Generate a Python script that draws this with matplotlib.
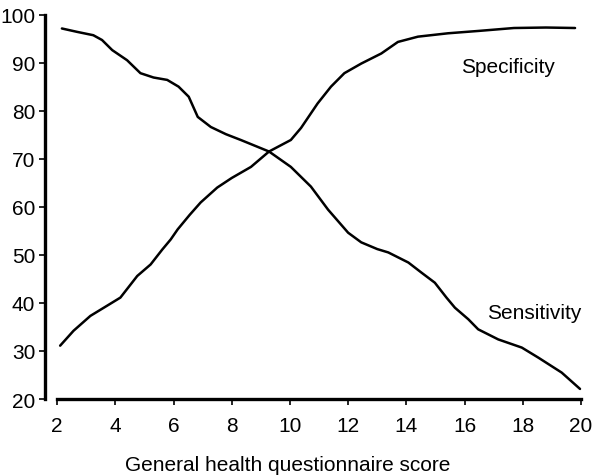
"""
Sensitivity and specificity against general health questionnaire score.
"""

import matplotlib.pyplot as plt

plt.rcParams['font.family'] = ['Liberation Sans', 'DejaVu Sans']

# (score, percent)
sens_x = [2.16, 2.68, 3.24, 3.54, 3.89, 4.4, 4.86, 5.31, 5.78, 6.17, 6.52,
          6.83, 7.28, 7.8, 8.31, 9.28, 10.03, 10.72, 11.31, 12.0, 12.45,
          13.0, 13.38, 14.07, 14.52, 14.98, 15.38, 15.67, 16.13, 16.47,
          17.16, 17.97, 18.54, 19.34, 19.97]
sens_y = [97.1, 96.4, 95.7, 94.7, 92.6, 90.5, 87.8, 86.9, 86.4, 85.0, 82.9,
          78.7, 76.6, 75.1, 73.9, 71.5, 68.3, 64.2, 59.4, 54.6, 52.6,
          51.2, 50.5, 48.4, 46.3, 44.2, 41.1, 39.0, 36.6, 34.5,
          32.4, 30.7, 28.6, 25.5, 22.1]

spec_x = [2.1, 2.56, 3.14, 3.71, 4.17, 4.75, 5.21, 5.61, 5.9, 6.14, 6.55,
          6.93, 7.5, 8.0, 8.66, 9.28, 10.03, 10.38, 10.95, 11.41, 11.87,
          12.45, 13.14, 13.71, 14.4, 15.43, 16.5, 17.7, 18.8, 19.8]
spec_y = [31.1, 34.2, 37.3, 39.4, 41.1, 45.6, 48.0, 51.1, 53.2, 55.3, 58.3,
          60.9, 64.0, 66.0, 68.3, 71.5, 73.9, 76.4, 81.5, 85.0, 87.8,
          89.8, 91.9, 94.3, 95.4, 96.1, 96.6, 97.2, 97.3, 97.2]

x_ticks = [2, 4, 6, 8, 10, 12, 14, 16, 18, 20]
y_ticks = [20, 30, 40, 50, 60, 70, 80, 90, 100]

fig = plt.figure(figsize=(5.94, 4.77), dpi=100)
ax = fig.add_axes([0.0758, 0.1614, 0.907, 0.806])

ax.plot(sens_x, sens_y, color='black', lw=1.8, solid_capstyle='round',
        solid_joinstyle='round')
ax.plot(spec_x, spec_y, color='black', lw=1.8, solid_capstyle='round',
        solid_joinstyle='round')

ax.text(17.5, 89.1, 'Specificity', fontsize=15, ha='center', va='center')
ax.text(18.4, 38.0, 'Sensitivity', fontsize=15, ha='center', va='center')

ax.set_xlim(1.58, 20.1)
ax.set_ylim(20, 100)
ax.set_xticks(x_ticks)
ax.set_yticks(y_ticks)
ax.tick_params(labelsize=15, length=4, width=1.2, color='black')
ax.tick_params(axis='x', pad=8)
ax.tick_params(axis='y', pad=3)

for side in ('top', 'right'):
    ax.spines[side].set_visible(False)
ax.spines['left'].set_linewidth(2.4)
ax.spines['bottom'].set_linewidth(2.4)
ax.spines['bottom'].set_bounds(2, 20)

fig.text(0.485, 0.024, 'General health questionnaire score',
         fontsize=15, ha='center', va='center')

plt.savefig('out.png', dpi=100)
plt.close()
